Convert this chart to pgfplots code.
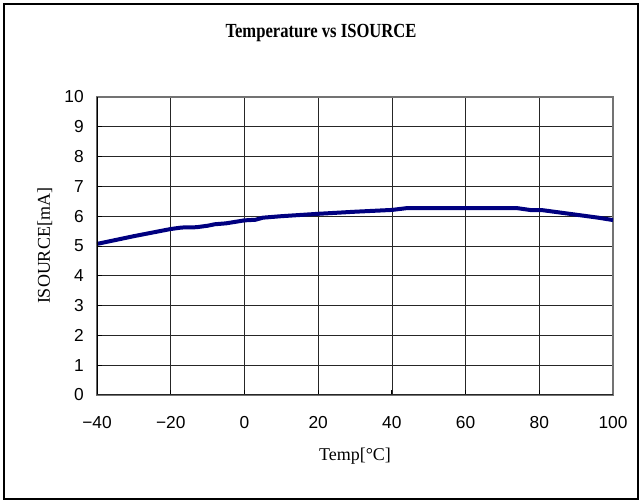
\documentclass[border=0pt]{standalone}
\usepackage{pgfplots}
\pgfplotsset{compat=1.18}
\usepackage{fontspec}
\setmainfont{Liberation Serif}
\newfontfamily\arial{Liberation Sans}

% 1 px of the reference = 0.75pt
\begin{document}
\begin{tikzpicture}
  \useasboundingbox (0pt,0pt) rectangle (481.5pt,377.25pt);
  \draw[black, line width=0.9pt] (3pt,3pt) rectangle (478.5pt,374.25pt);
  \node[font=\fontsize{15}{17}\selectfont\bfseries, xscale=0.83] at (240.75pt,352.5pt) {Temperature vs ISOURCE};
  \begin{axis}[
      at={(72.75pt,81pt)}, anchor=south west,
      width=387pt, height=223.5pt, scale only axis,
      xmin=-40, xmax=100, ymin=0, ymax=10,
      xtick={-40,-20,0,20,40,60,80,100},
      xticklabels={−40,−20,0,20,40,60,80,100},
      ytick={0,1,...,10},
      grid=major,
      major grid style={black!85, line width=0.5pt},
      axis line style={black!55, line width=0.8pt},
      tick align=inside, tick pos=left,
      major tick length=4pt,
      tick style={black, line width=0.6pt},
      ticklabel style={font=\arial\fontsize{13}{15}\selectfont, inner sep=0pt},
      xticklabel style={anchor=base, yshift=-24.8pt},
      yticklabel style={anchor=east, xshift=-9.75pt},
      /pgf/number format/assume math mode=true,
      xlabel={Temp[°C]},
      ylabel={ISOURCE[mA]},
      label style={font=\fontsize{13.5}{15}\selectfont},
      xlabel style={at={(axis description cs:0.5,-0.205)}, anchor=center},
      ylabel style={at={(axis description cs:-0.101,0.5)}, anchor=center, rotate=0},
    ]
    \addplot[color={rgb,255:red,0;green,0;blue,128}, line width=3pt, line join=round] coordinates {
      (-40,5.07) (-30,5.33) (-20,5.57) (-17,5.62) (-13,5.63) (-10,5.68)
      (-8,5.73) (-5,5.76) (0,5.86) (3,5.88) (5,5.95) (10,6.00)
      (20,6.08) (30,6.15) (40,6.21) (44,6.27) (74,6.27) (78,6.20)
      (81,6.20) (90,6.05) (96,5.95) (100,5.87)
    };
    \draw[black, line width=1.2pt] (rel axis cs:0,0) -- (rel axis cs:0,1);
    \draw[black!85, line width=1.2pt] (rel axis cs:0,0) -- (rel axis cs:1,0);
  \end{axis}
\end{tikzpicture}
\end{document}
